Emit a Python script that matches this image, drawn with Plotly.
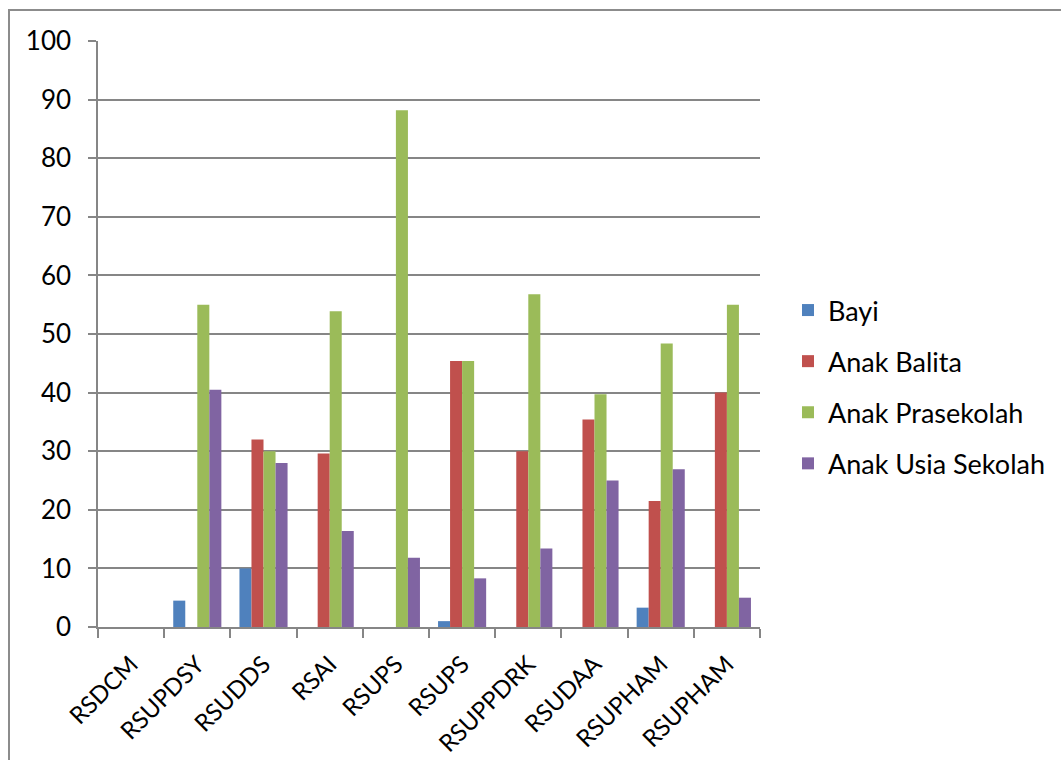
import plotly.graph_objects as go

# Hospitals (two names appear twice in the source table)
hospitals = ["RSDCM", "RSUPDSY", "RSUDDS", "RSAI", "RSUPS",
             "RSUPS", "RSUPPDRK", "RSUDAA", "RSUPHAM", "RSUPHAM"]

# Percentages per age group
bayi = [0, 4.5, 10, 0, 0, 1, 0, 0, 3.3, 0]
anak_balita = [0, 0, 32, 29.6, 0, 45.4, 30, 35.4, 21.5, 40]
anak_prasekolah = [0, 55, 30, 53.9, 88.2, 45.4, 56.8, 39.7, 48.4, 55]
anak_usia_sekolah = [0, 40.5, 28, 16.4, 11.8, 8.3, 13.4, 25, 26.9, 5]

y_ticks = list(range(0, 101, 10))

series = [
    ("Bayi", bayi, "#4F81BD"),
    ("Anak Balita", anak_balita, "#C0504D"),
    ("Anak Prasekolah", anak_prasekolah, "#9BBB59"),
    ("Anak Usia Sekolah", anak_usia_sekolah, "#8064A2"),
]

FONT = "Lato"
positions = list(range(len(hospitals)))

fig = go.Figure()
for i, (name, vals, color) in enumerate(series):
    fig.add_trace(go.Bar(
        x=positions, y=vals, name=name,
        marker=dict(color=color, line=dict(width=0)),
        legendgroup=f"g{i}",
    ))

W, H = 1061, 760
L, R, T, B = 98, 760, 41, 627

fig.update_layout(
    width=W, height=H,
    margin=dict(l=L, r=W - R, t=T, b=H - B, autoexpand=False),
    paper_bgcolor="white", plot_bgcolor="white",
    barmode="group", bargap=0.273, bargroupgap=0,
    font=dict(family=FONT, size=26, color="black"),
    legend=dict(
        x=(788 - L) / (R - L), xanchor="left",
        y=(B - 387) / (B - T), yanchor="middle",
        traceorder="grouped", tracegroupgap=13,
        font=dict(family=FONT, size=27, color="black"),
        itemwidth=30, bgcolor="rgba(0,0,0,0)",
    ),
    xaxis=dict(
        range=[-0.5, len(hospitals) - 0.5],
        tickmode="array", tickvals=positions, ticktext=hospitals,
        tickangle=-45, ticks="", showgrid=False,
        showline=True, linecolor="#868686", linewidth=1.5,
        tickfont=dict(family=FONT, size=24),
        ticklabelstandoff=12,
        minor=dict(tickmode="array",
                   tickvals=[p - 0.5 for p in positions] + [len(hospitals) - 0.5],
                   ticks="outside", ticklen=9, tickcolor="#868686",
                   tickwidth=1.5, showgrid=False),
        zeroline=False,
    ),
    yaxis=dict(
        range=[0, 100], tickmode="array", tickvals=y_ticks,
        ticks="outside", ticklen=8, tickcolor="#868686", tickwidth=1.5,
        showgrid=True, gridcolor="#868686", gridwidth=1.5,
        showline=True, linecolor="#868686", linewidth=1.5,
        zeroline=False, tickfont=dict(family=FONT, size=26),
        ticklabelstandoff=12,
    ),
    shapes=[dict(
        type="rect", xref="paper", yref="paper",
        x0=(9 - L) / (R - L), x1=(1080 - L) / (R - L),
        y0=(B - 790) / (B - T), y1=(B - 10) / (B - T),
        line=dict(color="#8c8c8c", width=2), fillcolor="rgba(0,0,0,0)",
        layer="below",
    )],
)

fig.write_html("out.html")
